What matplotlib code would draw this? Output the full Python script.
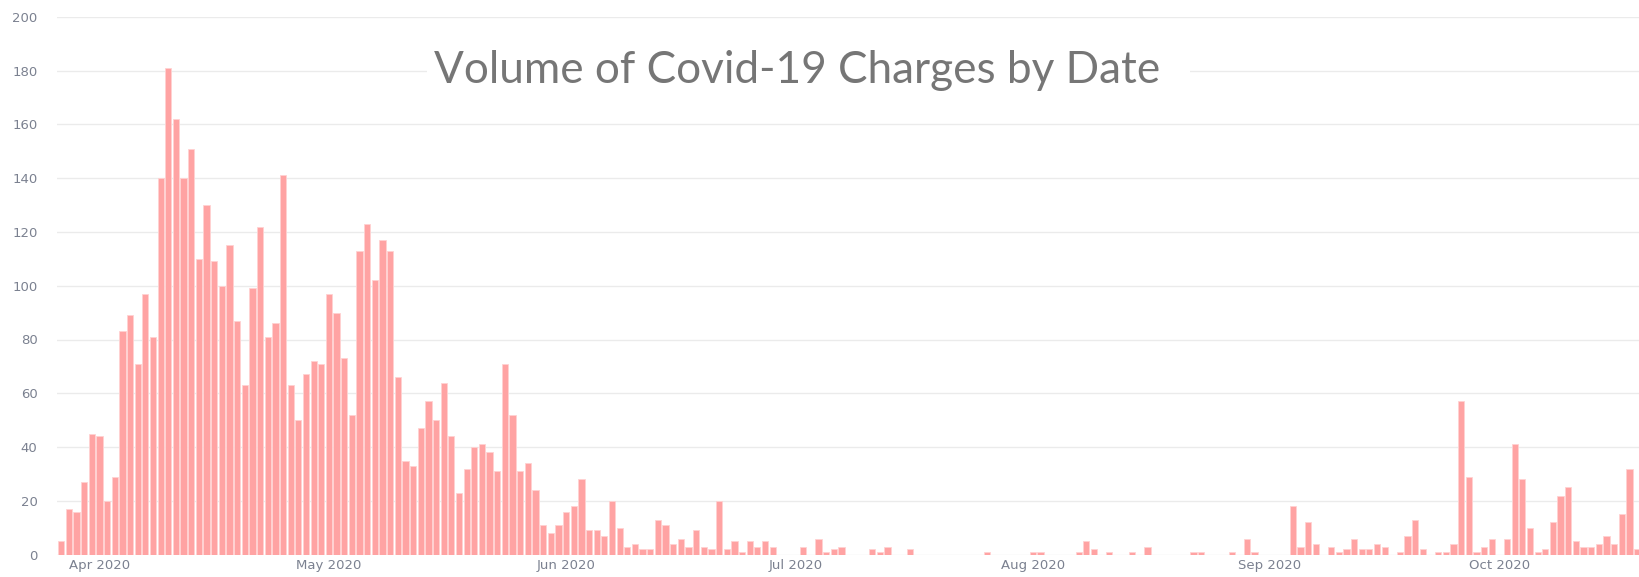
import numpy as np
import pandas as pd
import matplotlib
matplotlib.use("Agg")
import matplotlib.pyplot as plt
import matplotlib.dates as mdates
from matplotlib.patches import Rectangle


# Daily charge counts (starts 27 Mar 2020)
START_DATE = "2020-03-27"

MARCH = [5, 17, 16, 27, 45]
APRIL = [44, 20, 29, 83, 89, 71, 97, 81, 140, 181,
         162, 140, 151, 110, 130, 109, 100, 115, 87, 63,
         99, 122, 81, 86, 141, 63, 50, 67, 72, 71]
MAY = [97, 90, 73, 52, 113, 123, 102, 117, 113, 66,
       35, 33, 47, 57, 50, 64, 44, 23, 32, 40,
       41, 38, 31, 71, 52, 31, 34, 24, 11, 8, 11]
JUNE = [16, 18, 28, 9, 9, 7, 20, 10, 3, 4,
        2, 2, 13, 11, 4, 6, 3, 9, 3, 2,
        20, 2, 5, 1, 5, 3, 5, 3, 0, 0]
JULY = [0, 3, 0, 6, 1, 2, 3, 0, 0, 0,
        2, 1, 3, 0, 0, 2, 0, 0, 0, 0,
        0, 0, 0, 0, 0, 1, 0, 0, 0, 0, 0]
AUGUST = [1, 1, 0, 0, 0, 0, 1, 5, 2, 0,
          1, 0, 0, 1, 0, 3, 0, 0, 0, 0,
          0, 1, 1, 0, 0, 0, 1, 0, 6, 1, 0]
SEPTEMBER = [0, 0, 0, 18, 3, 12, 4, 0, 3, 1,
             2, 6, 2, 2, 4, 3, 0, 1, 7, 13,
             2, 0, 1, 1, 4, 57, 29, 1, 3, 6]
OCTOBER = [0, 6, 41, 28, 10, 1, 2, 12, 22, 25,
           5, 3, 3, 4, 7, 4, 15, 32, 2]

Y_TICKS = [0, 20, 40, 60, 80, 100, 120, 140, 160, 180, 200]
TITLE = "Volume of Covid-19 Charges by Date"

BAR_COLOR = "#ffa3a3"
BAR_EDGE = "#ffd2d2"
GRID_COLOR = "#ebebeb"
TICK_COLOR = "#7b8190"
TITLE_COLOR = "#767676"

W, H = 1640, 577


def main():
    counts = MARCH + APRIL + MAY + JUNE + JULY + AUGUST + SEPTEMBER + OCTOBER
    dates = pd.date_range(START_DATE, periods=len(counts), freq="D")
    df = pd.DataFrame({"date": dates, "count": counts})

    fig = plt.figure(figsize=(W / 100, H / 100), dpi=100)
    ax = fig.add_axes([57 / W, 22.3 / H, 1 - 57 / W, 538 / H])

    ax.bar(df["date"], df["count"], width=0.82, color=BAR_COLOR,
           edgecolor=BAR_EDGE, linewidth=0.6, zorder=2)

    start = mdates.date2num(pd.Timestamp(START_DATE))
    left = start - 0.55
    ax.set_xlim(left, left + (W - 57) / 7.65)
    ax.set_ylim(0, 200)

    ax.set_yticks(Y_TICKS)
    ax.yaxis.grid(True, color=GRID_COLOR, linewidth=1.0, zorder=0)
    ax.set_axisbelow(True)

    ax.xaxis.set_major_locator(mdates.MonthLocator())
    ax.xaxis.set_major_formatter(mdates.DateFormatter("%b %Y"))

    ax.tick_params(axis="both", length=0, labelsize=9.5, labelcolor=TICK_COLOR)
    ax.tick_params(axis="y", pad=14)
    ax.tick_params(axis="x", pad=3)
    for side in ["top", "right", "left", "bottom"]:
        ax.spines[side].set_visible(False)

    # white panel behind the title, hides the 180 gridline
    fig.patches.append(Rectangle((427 / W, 1 - 100 / H), (1190 - 427) / W, 60 / H,
                                 transform=fig.transFigure, facecolor="white",
                                 edgecolor="none", zorder=3))
    fig.text(797 / W, 1 - 83 / H, TITLE, ha="center", va="baseline",
             fontsize=31.8, color=TITLE_COLOR, family=["Lato", "DejaVu Sans"],
             zorder=4)

    fig.savefig("out.png", dpi=100, facecolor="white")
    plt.close(fig)


if __name__ == "__main__":
    main()
